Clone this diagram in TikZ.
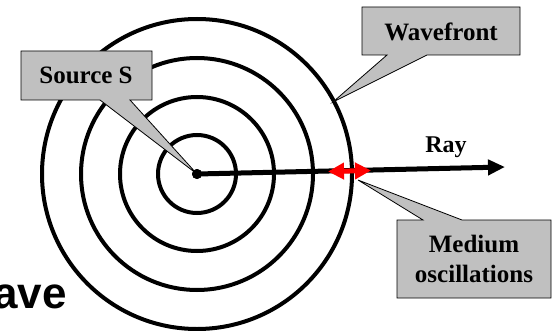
\documentclass[tikz,border=0pt]{standalone}
\usepackage{fontspec}
\setmainfont{Liberation Serif}
\setsansfont{Liberation Sans}
\usetikzlibrary{arrows.meta}
\definecolor{callgray}{HTML}{C0C0C0}
\definecolor{oscred}{HTML}{FF0000}
\tikzset{
  wave/.style={line width=4pt, black},
  callout/.style={fill=callgray, draw=black, line width=0.8pt, line join=miter},
  ctext/.style={font=\fontsize{25}{30}\selectfont\bfseries, align=center, inner sep=0pt},
}
\begin{document}
\begin{tikzpicture}[x=1pt,y=-1pt]
\useasboundingbox (0,0) rectangle (553,331);
\coordinate (S) at (197,174);
% wavefront circles
\draw[wave] (S) circle[radius=39];
\draw[wave] (S) circle[radius=77];
\draw[wave] (S) circle[radius=116];
\draw[wave] (S) circle[radius=155];
% ray
\coordinate (rayend) at (505,167);
\draw[line width=5pt, -{Triangle[length=17pt,width=15pt]}] (S) -- (rayend);
\fill (S) circle[radius=5];
% medium oscillation arrow
\coordinate (oscL) at (328,171.5);
\coordinate (oscR) at (371,170.5);
\draw[oscred, line width=5pt, {Triangle[length=16pt,width=16pt]}-{Triangle[length=16pt,width=16pt]}] (oscL) -- (oscR);
% callouts
\coordinate (wfpt) at (333,102);
\coordinate (medpt) at (358,180);
\draw[callout] (21,51) -- (152,51) -- (152,100) -- (130,100) -- (S) -- (100,100) -- (21,100) -- cycle;
\draw[callout] (362,7) -- (520,7) -- (520,55) -- (427,55) -- (wfpt) -- (387,55) -- (362,55) -- cycle;
\draw[callout] (397,220) -- (423,220) -- (medpt) -- (462,220) -- (551,220) -- (551,298) -- (397,298) -- cycle;
\fill (S) circle[radius=5];
\node[ctext] (src) at (86,75.5) {Source S};
\node[ctext] (wf) at (441,31.5) {Wavefront};
\node[ctext] (med) at (474,259) {Medium\\oscillations};
\node[ctext, font=\fontsize{24}{28}\selectfont\bfseries] (ray) at (446,147) {Ray};
\node[inner sep=0pt, anchor=base east, font=\sffamily\bfseries\fontsize{44}{50}\selectfont] (ttl) at (67,308) {ave};
\end{tikzpicture}
\end{document}
